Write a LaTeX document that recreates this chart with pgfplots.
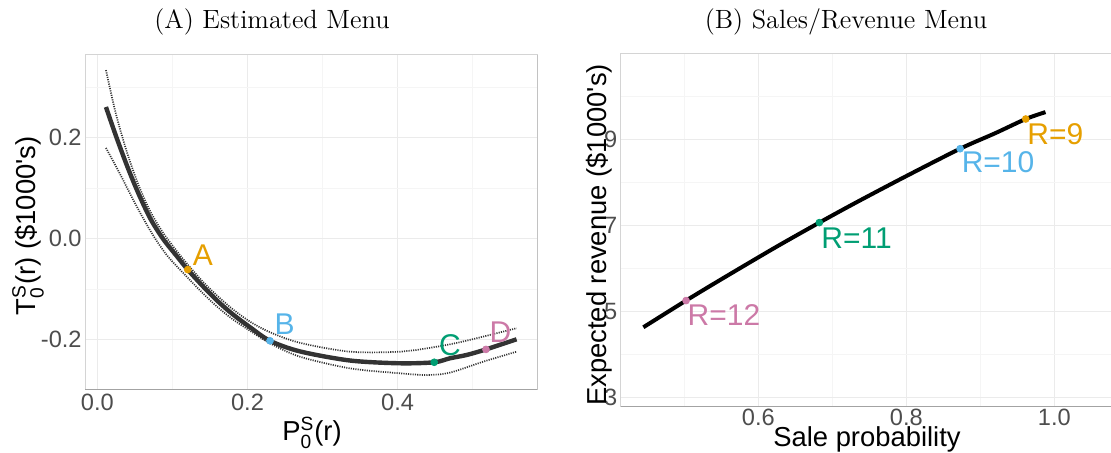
\documentclass[border=0pt]{standalone}
\usepackage{fontspec}
\setsansfont{Liberation Sans}
\usepackage{amsmath}
\usepackage{pgfplots}
\pgfplotsset{compat=1.18}
\definecolor{cA}{HTML}{E69F00}
\definecolor{cB}{HTML}{56B4E9}
\definecolor{cC}{HTML}{009E73}
\definecolor{cD}{HTML}{CC79A7}
\definecolor{tickc}{HTML}{4D4D4D}
\definecolor{gridmaj}{HTML}{EBEBEB}
\definecolor{gridmin}{HTML}{F5F5F5}
\definecolor{frameL}{HTML}{D4D4D4}
\definecolor{frameD}{HTML}{A3A3A3}
\definecolor{curve}{HTML}{333333}
\newcommand\lab{\sffamily\fontsize{15}{18}\selectfont}
\newcommand\axt{\sffamily\fontsize{13.7}{16}\selectfont}
\newcommand\ttl{\rmfamily\fontsize{13.2}{16}\selectfont}
\pgfplotsset{
  panel/.style={
    scale only axis, axis lines=box, axis line style={draw=frameL, line width=0.5pt},
    grid=both, major grid style={draw=gridmaj, line width=0.5pt},
    minor grid style={draw=gridmin, line width=0.3pt},
    major tick length=0pt, minor tick length=0pt,
    /pgf/number format/assume math mode=true,
    ticklabel style={font=\sffamily\fontsize{11.8}{13}\selectfont, text=tickc},
    yticklabel style={inner sep=0pt, xshift=-1.5pt},
    xticklabel style={inner sep=0pt, yshift=-2.2pt},
  },
  dotband/.style={curve, line width=0.85pt, dash pattern=on 0.55pt off 0.6pt, smooth, tension=0.5},
}
\begin{document}
\begin{tikzpicture}
\path[use as bounding box] (0,0) rectangle (555.5pt,226.5pt);
% ---------- Panel A ----------
\begin{axis}[panel, at={(42.5pt,31.85pt)}, anchor=south west,
  width=226.15pt, height=167.15pt,
  xmin=-0.0164, xmax=0.586, ymin=-0.299, ymax=0.363,
  xtick={0,0.2,0.4}, xticklabels={0.0,0.2,0.4},
  minor xtick={0.1,0.3,0.5},
  ytick={-0.2,0,0.2}, yticklabels={-0.2,0.0,0.2},
  minor ytick={-0.1,0.1,0.3}]
\addplot[dotband] coordinates {
(0.0115,0.333) (0.025,0.245) (0.04,0.168) (0.055,0.105) (0.071,0.052) (0.088,0.010)
(0.1057,-0.025) (0.1204,-0.052) (0.14,-0.085) (0.16,-0.114) (0.18,-0.140) (0.2033,-0.165)
(0.23,-0.186) (0.27,-0.207) (0.3365,-0.2245) (0.403,-0.2245) (0.452,-0.2147) (0.4919,-0.2027) (0.5584,-0.178)};
\addplot[dotband] coordinates {
(0.0115,0.179) (0.03,0.128) (0.05,0.070) (0.071,0.014) (0.0924,-0.033) (0.1204,-0.078)
(0.14,-0.108) (0.16,-0.136) (0.18,-0.160) (0.2033,-0.183) (0.23,-0.208) (0.27,-0.2345)
(0.3365,-0.2575) (0.403,-0.2673) (0.4386,-0.2707) (0.4696,-0.266) (0.514,-0.2443) (0.5584,-0.2245)};
\addplot[curve, line width=2.2pt, smooth, tension=0.5] coordinates {
(0.0115,0.260) (0.025,0.202) (0.04,0.142) (0.055,0.088) (0.071,0.038) (0.088,-0.002)
(0.1057,-0.035) (0.1204,-0.062) (0.14,-0.094) (0.16,-0.124) (0.18,-0.150) (0.2033,-0.176)
(0.23,-0.203) (0.27,-0.224) (0.3365,-0.242) (0.403,-0.2475) (0.4487,-0.2455) (0.4696,-0.2376)
(0.492,-0.231) (0.5176,-0.220) (0.5584,-0.200)};
\addplot[only marks, mark=*, mark size=1.7pt, cA] coordinates {(0.1204,-0.062)};
\addplot[only marks, mark=*, mark size=1.7pt, cB] coordinates {(0.23,-0.203)};
\addplot[only marks, mark=*, mark size=1.7pt, cC] coordinates {(0.4487,-0.2455)};
\addplot[only marks, mark=*, mark size=1.7pt, cD] coordinates {(0.5176,-0.220)};
\node[text=cA, font=\lab, inner sep=0pt] at (axis cs:0.1405,-0.034) {A};
\node[text=cB, font=\lab, inner sep=0pt] at (axis cs:0.2495,-0.171) {B};
\node[text=cC, font=\lab, inner sep=0pt] at (axis cs:0.4696,-0.2123) {C};
\node[text=cD, font=\lab, inner sep=0pt] at (axis cs:0.537,-0.1865) {D};
\draw[frameD, line width=0.5pt] (rel axis cs:0,0) -- (rel axis cs:1,0) -- (rel axis cs:1,1);
\end{axis}
% ---------- Panel B ----------
\begin{axis}[panel, at={(310.35pt,23.15pt)}, anchor=south west,
  width=245.65pt, height=176.35pt,
  xmin=0.414, xmax=1.0779, ymin=2.791, ymax=10.98,
  xtick={0.6,0.8,1.0}, xticklabels={0.6,0.8,1.0},
  minor xtick={0.5,0.7,0.9},
  ytick={3,5,7,9}, yticklabels={3,5,7,9},
  minor ytick={4,6,8,10},
  xticklabel style={yshift=1pt}]
\addplot[black, line width=2pt, smooth, tension=0.5] coordinates {
(0.4446,4.635) (0.5023,5.255) (0.55,5.75) (0.6226,6.485) (0.6824,7.065) (0.733,7.54)
(0.8005,8.15) (0.8726,8.78) (0.92,9.14) (0.9613,9.47) (0.988,9.63)};
\addplot[only marks, mark=*, mark size=1.7pt, cD] coordinates {(0.5023,5.255)};
\addplot[only marks, mark=*, mark size=1.7pt, cC] coordinates {(0.6824,7.065)};
\addplot[only marks, mark=*, mark size=1.7pt, cB] coordinates {(0.8726,8.78)};
\addplot[only marks, mark=*, mark size=1.7pt, cA] coordinates {(0.9613,9.47)};
\node[text=cD, font=\lab, inner sep=0pt] at (axis cs:0.5536,4.914) {R=12};
\node[text=cC, font=\lab, inner sep=0pt] at (axis cs:0.7327,6.703) {R=11};
\node[text=cB, font=\lab, inner sep=0pt] at (axis cs:0.9239,8.457) {R=10};
\node[text=cA, font=\lab, inner sep=0pt] at (axis cs:1.0014,9.121) {R=9};
\draw[frameD, line width=0.5pt] (rel axis cs:0,0) -- (rel axis cs:1,0);
\end{axis}
% ---------- Titles and axis labels ----------
\begin{scope}[x=0.5pt, y=-0.5pt, yshift=226.5pt]
\node[font=\ttl, anchor=base, inner sep=0pt] at (272,28.6) {(A) Estimated Menu};
\node[font=\ttl, anchor=base, inner sep=0pt] at (846,28.6) {(B) Sales/Revenue Menu};
\node[font=\axt, anchor=base, inner sep=0pt] at (312,441) {P$^{\text{S}}_{\text{0}}$(r)};
\node[font=\axt, anchor=base, inner sep=0pt] at (867,447) {Sale probability};
\node[font=\axt, rotate=90, inner sep=0pt] at (28,225.7) {T$^{\text{S}}_{\text{0}}$(r) (\$1000\textquotesingle s)};
\node[font=\axt, rotate=90, inner sep=0pt] at (599,235) {Expected revenue (\$1000\textquotesingle s)};
\end{scope}
\end{tikzpicture}
\end{document}
